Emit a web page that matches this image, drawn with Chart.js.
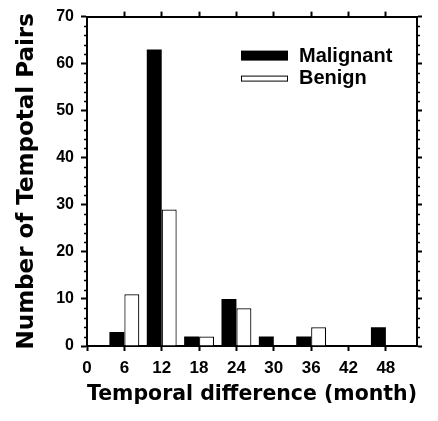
<!DOCTYPE html>
<html>
<head>
<meta charset="utf-8">
<script src="https://cdn.jsdelivr.net/npm/chart.js@4"></script>
<style>
  body { margin: 0; background: #fff; }
</style>
</head>
<body>
<canvas id="myChart" width="438" height="421"></canvas>
<script>
    // data
    const months = [6, 12, 18, 24, 30, 36, 42, 48];
    const malignant = [3, 63, 2, 10, 2, 2, 0, 4];
    const benign = [11, 29, 2, 8, 0, 4, 0, 0];
    const xTicks = [0, 6, 12, 18, 24, 30, 36, 42, 48];
    const yTicks = [0, 10, 20, 30, 40, 50, 60, 70];

    const titleFont = { family: 'DejaVu Sans', weight: 'bold' };

    const onlyTicks = (list) => (scale) => {
        scale.ticks = list.map(v => ({ value: v }));
    };

    // minor ticks every 2 on left and right axes
    const minorTicks = {
        id: 'minorTicks',
        afterDraw(chart) {
            const { ctx, chartArea, scales } = chart;
            ctx.save();
            ctx.strokeStyle = '#000';
            ctx.lineWidth = 1.5;
            for (let v = 2; v < 70; v += 2) {
                if (v % 10 === 0) continue;
                const y = Math.round(scales.y.getPixelForValue(v)) + 0.5;
                ctx.beginPath();
                ctx.moveTo(chartArea.left - 3, y);
                ctx.lineTo(chartArea.left, y);
                ctx.moveTo(chartArea.right, y);
                ctx.lineTo(chartArea.right + 3, y);
                ctx.stroke();
            }
            ctx.restore();
        }
    };

    // legend sits inside the plot
    const insideLegend = {
        id: 'insideLegend',
        afterDraw(chart) {
            const { ctx, chartArea } = chart;
            const x = chartArea.left + 154;
            const sets = chart.data.datasets;
            ctx.save();
            ctx.font = 'bold 20px "Liberation Sans"';
            ctx.textBaseline = 'middle';
            ctx.fillStyle = sets[0].backgroundColor;
            ctx.fillRect(x, chartArea.top + 34, 47, 10);
            ctx.fillStyle = '#000';
            ctx.fillText(sets[0].label, x + 58, chartArea.top + 40);
            ctx.fillStyle = sets[1].backgroundColor;
            ctx.fillRect(x, chartArea.top + 59, 47, 5);
            ctx.strokeStyle = sets[1].borderColor;
            ctx.lineWidth = 1;
            ctx.strokeRect(x + 0.5, chartArea.top + 59.5, 46, 5);
            ctx.fillStyle = '#000';
            ctx.fillText(sets[1].label, x + 58, chartArea.top + 62);
            ctx.restore();
        }
    };

    const data = {
        datasets: [
            {
                label: 'Malignant',
                data: months.map((m, i) => ({ x: m, y: malignant[i] })),
                backgroundColor: '#000',
                borderColor: '#000',
                borderWidth: 0,
                categoryPercentage: 0.8,
                barPercentage: 1
            },
            {
                label: 'Benign',
                data: months.map((m, i) => ({ x: m, y: benign[i] })),
                backgroundColor: '#fff',
                borderColor: '#000',
                borderWidth: 1.2,
                categoryPercentage: 0.8,
                barPercentage: 1
            }
        ]
    };

    const axisGrid = { drawOnChartArea: false, color: '#000', tickWidth: 2, tickLength: 6, offset: false };
    const axisBorder = { color: '#000', width: 2 };

    const config = {
        type: 'bar',
        data: data,
        options: {
            responsive: false,
            animation: false,
            layout: { padding: 0 },
            plugins: {
                legend: { display: false },
                tooltip: { enabled: false }
            },
            scales: {
                x: {
                    type: 'linear',
                    position: 'bottom',
                    offset: false,
                    min: 0,
                    max: 53,
                    afterBuildTicks: onlyTicks(xTicks),
                    afterFit: (s) => { s.height = 75; },
                    grid: { ...axisGrid, tickLength: 5 },
                    border: axisBorder,
                    ticks: {
                        color: '#000',
                        font: { family: 'Liberation Sans', weight: 'bold', size: 17 },
                        padding: 7,
                        maxRotation: 0
                    },
                    title: {
                        display: true,
                        text: 'Temporal difference (month)',
                        color: '#000',
                        font: { ...titleFont, size: 21 },
                        padding: { top: 0, bottom: 14 }
                    }
                },
                x2: {
                    type: 'linear',
                    position: 'top',
                    offset: false,
                    min: 0,
                    max: 53,
                    afterBuildTicks: onlyTicks(xTicks.slice(1)),
                    afterFit: (s) => { s.height = 15; },
                    grid: { ...axisGrid, tickLength: 5 },
                    border: axisBorder,
                    ticks: { display: false }
                },
                y: {
                    min: 0,
                    max: 70,
                    afterBuildTicks: onlyTicks(yTicks),
                    afterFit: (s) => { s.width = 87; },
                    grid: axisGrid,
                    border: axisBorder,
                    ticks: {
                        color: '#000',
                        font: { family: 'Liberation Sans', weight: 'bold', size: 16 },
                        padding: 7
                    },
                    title: {
                        display: true,
                        text: 'Number of Tempotal Pairs',
                        color: '#000',
                        font: { ...titleFont, size: 23 },
                        padding: { top: 13, bottom: 0 }
                    }
                },
                y2: {
                    position: 'right',
                    min: 0,
                    max: 70,
                    afterBuildTicks: onlyTicks(yTicks),
                    afterFit: (s) => { s.width = 21; },
                    grid: { ...axisGrid, tickLength: 5 },
                    border: axisBorder,
                    ticks: { display: false }
                }
            }
        },
        plugins: [minorTicks, insideLegend]
    };

    const myChart = new Chart(
        document.getElementById('myChart'),
        config
    );
</script>
</body>
</html>
